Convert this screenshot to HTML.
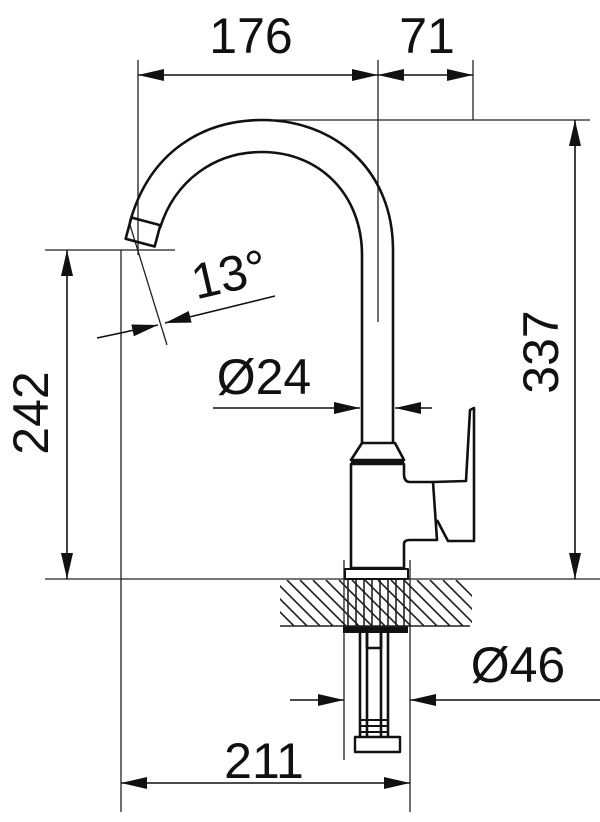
<!DOCTYPE html>
<html><head><meta charset="utf-8"><style>
html,body{margin:0;padding:0;background:#fff;}
svg{display:block;}
text{font-family:"Liberation Sans",sans-serif;font-size:50px;fill:#111;}
</style></head><body>
<svg width="600" height="822" viewBox="0 0 600 822" xmlns="http://www.w3.org/2000/svg">
<defs>
<marker id="a" viewBox="0 0 26 12" refX="26" refY="6" markerWidth="26" markerHeight="12" markerUnits="userSpaceOnUse" orient="auto-start-reverse"><path d="M0,0 L26,6 L0,12z" fill="#111"/></marker>
<clipPath id="hc"><rect x="280" y="580" width="192" height="46"/></clipPath>
</defs>
<g stroke="#222" stroke-width="1.3" fill="none">
<line x1="138" y1="60" x2="138" y2="255"/>
<line x1="378" y1="60" x2="378" y2="322"/>
<line x1="473" y1="60" x2="473" y2="120"/>
<line x1="275" y1="120" x2="590" y2="120"/>
<line x1="45" y1="579" x2="600" y2="579"/>
<line x1="45" y1="250" x2="175" y2="250"/>
<line x1="121" y1="250" x2="121" y2="812"/>
<line x1="410" y1="560" x2="410" y2="812"/>
<line x1="344" y1="560" x2="344" y2="760"/>
<line x1="130" y1="225" x2="167" y2="345"/>
</g>
<g stroke="#111" stroke-width="1.6" fill="none">
<line x1="138" y1="75" x2="378" y2="75" marker-start="url(#a)" marker-end="url(#a)"/>
<line x1="378" y1="75" x2="473" y2="75" marker-start="url(#a)" marker-end="url(#a)"/>
<line x1="575" y1="120" x2="575" y2="579" marker-start="url(#a)" marker-end="url(#a)"/>
<line x1="67" y1="250" x2="67" y2="579" marker-start="url(#a)" marker-end="url(#a)"/>
<line x1="121" y1="783" x2="410" y2="783" marker-start="url(#a)" marker-end="url(#a)"/>
<line x1="213" y1="408" x2="360" y2="408" marker-end="url(#a)"/>
<line x1="432" y1="408" x2="395" y2="408" marker-end="url(#a)"/>
<line x1="290" y1="700" x2="344" y2="700" marker-end="url(#a)"/>
<line x1="600" y1="700" x2="410" y2="700" marker-end="url(#a)"/>
<line x1="97" y1="338" x2="158" y2="325" marker-end="url(#a)"/>
<line x1="275" y1="296" x2="165" y2="323" marker-end="url(#a)"/>
</g>
<g stroke="#111" stroke-width="2.6" fill="none" stroke-linejoin="round">
<path d="M130,222 C150,150 205,120 262,120 C335,120 393,170 393,250 L393,443"/>
<path d="M160,228 C175,180 215,152 262,152 C320,152 362,195 362,255 L362,443"/>
<rect x="128" y="221" width="30" height="22" transform="rotate(15 143 232)"/>
<path d="M362,443 L351,460 L404,460 L395,443 Z"/>
<path d="M351,464 L351,568 L404,568 L404,544 Q404,540 410,540 L437,540 L433,482 L410,482 Q404,482 404,474 L404,464 Z"/>
<path d="M433,482 L466,481 L470,410 L474,408 L474,541 L448,541 L437,520"/>
<rect x="345" y="569" width="63" height="10" stroke-width="2"/>
<rect x="355" y="737" width="45" height="15" stroke-width="2.4"/>
<path d="M360,632 L360,737 M388,632 L388,737 M367,632 L367,737 M381,632 L381,737"/>
<path d="M367,632 L367,648 L381,648 L381,632"/>
<path d="M360,720 H388 M360,726 H388 M360,732 H388" stroke-width="2"/>
</g>
<rect x="351" y="460" width="53" height="4" fill="#111"/>
<rect x="343" y="626" width="65" height="7" fill="#111"/>
<g stroke="#222" stroke-width="1.6">
<line x1="280" y1="626" x2="470" y2="626"/>
<g clip-path="url(#hc)">
<path d="M248,580 l46,46 M261,580 l46,46 M274,580 l46,46 M287,580 l46,46 M300,580 l46,46 M313,580 l46,46 M326,580 l46,46 M339,580 l46,46 M352,580 l46,46 M365,580 l46,46 M378,580 l46,46 M391,580 l46,46 M404,580 l46,46 M417,580 l46,46 M430,580 l46,46 M443,580 l46,46 M456,580 l46,46"/>
</g>
<path d="M348,580 V626 M356,580 V626 M364,580 V626 M372,580 V626 M380,580 V626 M388,580 V626 M396,580 V626 M404,580 V626"/>
</g>
<text x="251" y="53" text-anchor="middle">176</text>
<text x="427" y="53" text-anchor="middle">71</text>
<text x="264" y="394" text-anchor="middle">Ø24</text>
<text x="518" y="682" text-anchor="middle">Ø46</text>
<text x="264" y="778" text-anchor="middle">211</text>
<text transform="translate(233,291) rotate(-13)" text-anchor="middle">13°</text>
<text transform="translate(48,413) rotate(-90)" text-anchor="middle">242</text>
<text transform="translate(558,352) rotate(-90)" text-anchor="middle">337</text>
</svg>
</body></html>
